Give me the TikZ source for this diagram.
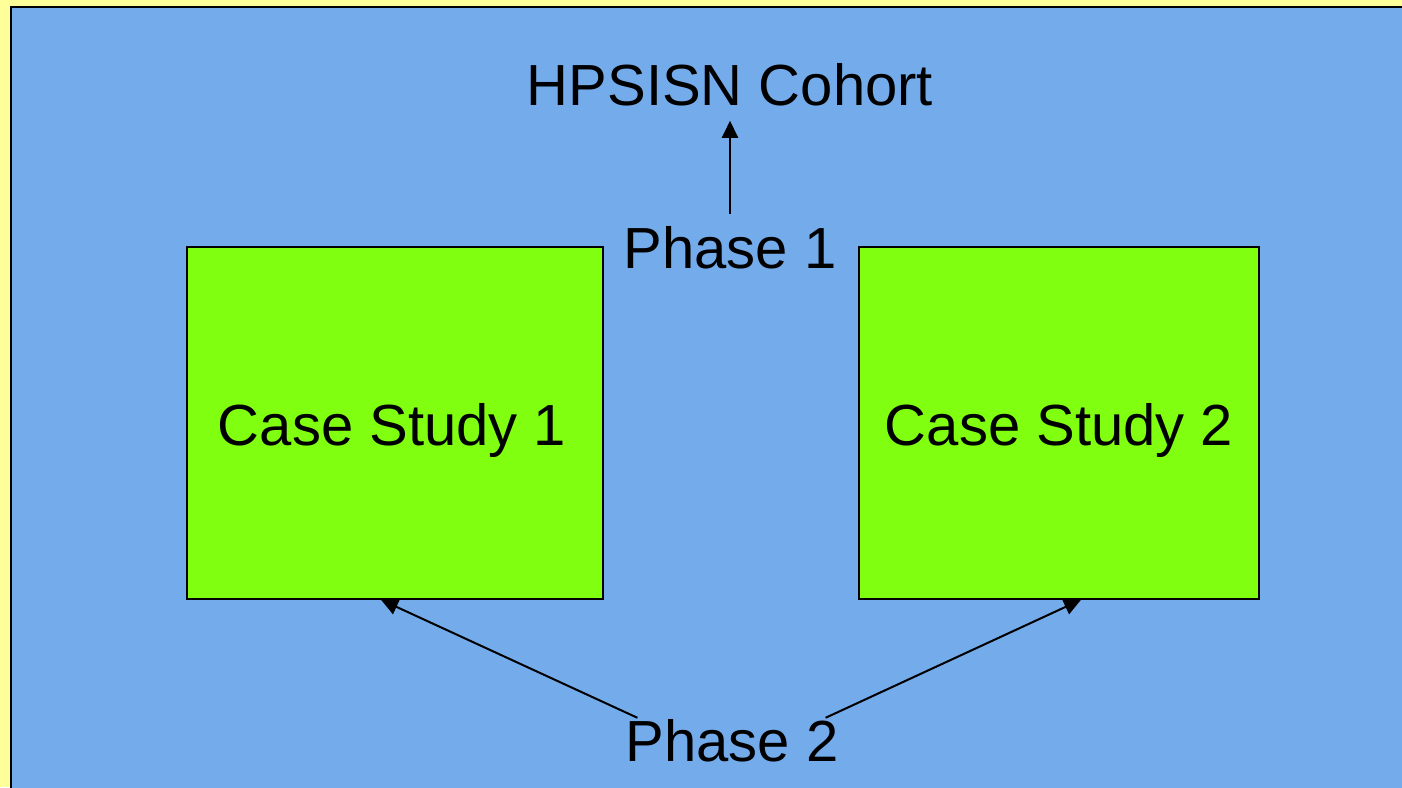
\documentclass[tikz,border=0pt]{standalone}
\usepackage{fontspec}
\setmainfont{Liberation Sans}
\usetikzlibrary{arrows.meta}
\definecolor{paper}{RGB}{255,255,153}
\definecolor{sky}{RGB}{116,171,235}
\definecolor{lime}{RGB}{128,255,16}
\tikzset{
  label text/.style={inner sep=0pt, anchor=base, font=\fontsize{58}{70}\selectfont},
  casebox/.style={draw=black, line width=1.5pt, fill=lime, minimum width=416pt, minimum height=352pt, inner sep=0pt},
  link/.style={draw=black, line width=2pt, -{Triangle[length=17pt,width=16pt]}},
}
\begin{document}
\begin{tikzpicture}[x=1pt,y=-1pt]
  \useasboundingbox (0,0) rectangle (1402,787);
  % page backdrop and slide panel
  \fill[paper] (0,0) rectangle (1402,787);
  \begin{scope}
    \clip (0,0) rectangle (1402,787);
    \draw[fill=sky, line width=2.5pt] (11,7) rectangle (1480,850);
  \end{scope}
  % boxes
  \node[casebox] (b1) at (395,423) {};
  \node[casebox, minimum width=400pt] (b2) at (1059,423) {};
  \node[label text] (cs1) at (392,445) {Case Study 1};
  \node[label text] (cs2) at (1059,445) {Case Study 2};
  % labels
  \node[label text] (hp) at (730,105) {HPSISN Cohort};
  \node[label text] (p1) at (730,268) {Phase 1};
  \node[label text] (p2) at (732,761) {Phase 2};
  % connectors
  \draw[link, shorten <=12pt, shorten >=15pt] (p1.north) -- (p1.north |- hp.south);
  \draw[link] ([xshift=12pt,yshift=1pt]p2.north west) -- ([xshift=-14pt]b1.south);
  \draw[link] ([xshift=-13pt,yshift=1pt]p2.north east) -- ([xshift=22pt]b2.south);
\end{tikzpicture}
\end{document}
